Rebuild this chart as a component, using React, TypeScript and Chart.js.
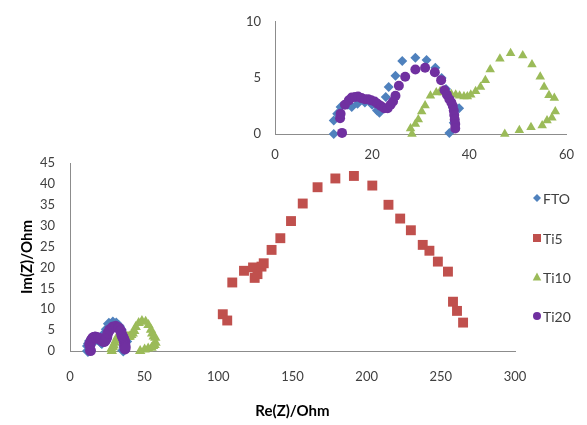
import React, { useEffect, useRef } from 'react';
import { Chart, registerables } from 'chart.js';

Chart.register(...registerables);

const SERIES_NAMES = ['FTO', 'Ti5', 'Ti10', 'Ti20'];
const COLORS = ['#4F81BD', '#C0504D', '#9BBB59', '#7030A0'];
const POINT_STYLES = ['rectRot', 'rect', 'triangle', 'circle'];

const FTO_X = [12.1, 12.1, 12.8, 13.5, 15.0, 15.8, 17.0, 18.5, 20.0, 21.0, 21.5, 22.8, 23.4, 24.8, 26.2, 28.9, 31.2, 33.0, 34.3, 35.2, 36.0, 36.6, 37.9, 36.8, 35.9];
const FTO_Y = [0.0, 1.2, 1.8, 2.4, 2.6, 2.4, 2.7, 2.8, 2.6, 2.1, 1.9, 3.3, 4.2, 5.2, 6.5, 6.8, 6.6, 5.9, 5.0, 4.0, 3.0, 2.6, 2.3, 1.0, 0.1];

const TI5_X = [103.0, 106.0, 109.4, 117.3, 123.4, 124.5, 126.4, 129.1, 130.6, 135.9, 141.8, 149.0, 156.9, 166.9, 178.9, 191.4, 203.8, 214.7, 222.6, 229.8, 237.8, 242.3, 248.0, 254.8, 258.2, 260.9, 265.0];
const TI5_Y = [8.8, 7.3, 16.4, 19.2, 20.0, 17.5, 18.4, 20.2, 21.0, 24.2, 27.0, 31.1, 35.3, 39.2, 41.3, 41.9, 39.6, 35.0, 31.7, 28.9, 25.4, 24.0, 21.4, 19.0, 11.8, 9.6, 6.8];

const TI10_X = [28.2, 27.9, 28.9, 29.5, 30.2, 30.9, 32.0, 33.2, 34.0, 34.6, 35.5, 36.3, 37.2, 38.0, 38.9, 39.6, 40.3, 41.3, 42.3, 43.3, 44.3, 46.3, 48.5, 51.0, 52.9, 54.6, 55.4, 56.4, 57.5, 57.7, 57.0, 56.0, 55.0, 52.7, 50.3, 47.3];
const TI10_Y = [0.0, 0.5, 0.9, 1.3, 2.0, 2.55, 3.4, 3.7, 3.8, 3.7, 3.6, 3.55, 3.5, 3.4, 3.35, 3.35, 3.5, 3.8, 4.2, 4.8, 5.75, 6.7, 7.2, 7.0, 6.2, 5.1, 4.2, 3.45, 3.2, 2.0, 1.45, 1.2, 0.75, 0.6, 0.33, 0.0];

const TI20_X = [13.8, 13.4, 13.5, 14.4, 15.2, 15.8, 16.5, 17.1, 17.8, 18.5, 19.2, 19.8, 20.5, 21.1, 21.8, 22.5, 23.2, 23.8, 24.3, 24.8, 25.5, 26.8, 28.9, 30.9, 32.9, 34.2, 34.9, 35.4, 35.9, 36.3, 36.6, 36.8, 36.9, 37.0, 37.1, 37.1];
const TI20_Y = [0.1, 1.4, 1.8, 2.6, 3.0, 3.25, 3.3, 3.35, 3.2, 3.1, 3.1, 3.0, 2.9, 2.7, 2.5, 2.3, 2.3, 2.6, 2.9, 3.4, 4.3, 5.1, 5.75, 5.9, 5.5, 4.8, 3.9, 3.5, 3.1, 2.8, 2.5, 2.1, 1.7, 1.3, 0.9, 0.5];

const MAIN_X_TICKS = [0, 50, 100, 150, 200, 250, 300];
const MAIN_Y_TICKS = [0, 5, 10, 15, 20, 25, 30, 35, 40, 45];
const INSET_X_TICKS = [0, 20, 40, 60];
const INSET_Y_TICKS = [0, 5, 10];

const X_TITLE = 'Re(Z)/Ohm';
const Y_TITLE = 'Im(Z)/Ohm';

const SERIES_X = [FTO_X, TI5_X, TI10_X, TI20_X];
const SERIES_Y = [FTO_Y, TI5_Y, TI10_Y, TI20_Y];

const FONT_FAMILY = 'Lato, "Open Sans", sans-serif';
const TEXT_COLOR = '#404040';
const AXIS_COLOR = '#8c8c8c';

function pts(xs: number[], ys: number[]) {
  return xs.map((x, i) => ({ x, y: ys[i] }));
}

function drawMarker(ctx: CanvasRenderingContext2D, style: string, x: number, y: number, r: number, color: string) {
  ctx.save();
  ctx.fillStyle = color;
  ctx.beginPath();
  if (style === 'rectRot') {
    ctx.moveTo(x, y - r);
    ctx.lineTo(x + r, y);
    ctx.lineTo(x, y + r);
    ctx.lineTo(x - r, y);
    ctx.closePath();
  } else if (style === 'rect') {
    ctx.rect(x - r, y - r, 2 * r, 2 * r);
  } else if (style === 'triangle') {
    ctx.moveTo(x, y - r);
    ctx.lineTo(x + r * 0.95, y + r * 0.75);
    ctx.lineTo(x - r * 0.95, y + r * 0.75);
    ctx.closePath();
  } else {
    ctx.arc(x, y, r, 0, Math.PI * 2);
  }
  ctx.fill();
  ctx.restore();
}

const legendPlugin = {
  id: 'customLegend',
  afterDraw(chart: any) {
    const ctx = chart.ctx as CanvasRenderingContext2D;
    const ys = [198, 238, 277, 316];
    const rs = [4, 4, 4.5, 4];
    ctx.save();
    ctx.font = `14px ${FONT_FAMILY}`;
    ctx.textBaseline = 'middle';
    SERIES_NAMES.forEach((name, i) => {
      drawMarker(ctx, POINT_STYLES[i], 537, ys[i], rs[i], COLORS[i]);
      ctx.fillStyle = TEXT_COLOR;
      ctx.fillText(name, 543, ys[i] + 1);
    });
    ctx.restore();
  },
};

const tickFont = { family: FONT_FAMILY, size: 13 };
const titleFont = { family: FONT_FAMILY, size: 15, weight: 'bold' as const };

export default function App() {
  const mainRef = useRef<HTMLCanvasElement>(null);
  const insetRef = useRef<HTMLCanvasElement>(null);

  useEffect(() => {
    const mainSizes = [6, 7, 6, 5.5];
    const mainChart = new Chart(mainRef.current!, {
      type: 'scatter',
      data: {
        datasets: SERIES_NAMES.map((name, i) => ({
          label: name,
          data: pts(SERIES_X[i], SERIES_Y[i]),
          pointStyle: POINT_STYLES[i] as any,
          pointRadius: mainSizes[i],
          backgroundColor: COLORS[i],
          borderColor: COLORS[i],
          borderWidth: 0,
          order: 4 - i,
          clip: false as any,
        })),
      },
      options: {
        animation: false,
        responsive: false,
        maintainAspectRatio: false,
        layout: { padding: { left: 0, top: 163, right: 72, bottom: 0 } },
        plugins: { legend: { display: false }, tooltip: { enabled: false } },
        scales: {
          x: {
            type: 'linear',
            min: 0,
            max: 300,
            afterBuildTicks: (s: any) => { s.ticks = MAIN_X_TICKS.map((v) => ({ value: v })); },
            ticks: { padding: 18, font: tickFont, color: TEXT_COLOR, autoSkip: false, maxRotation: 0 },
            grid: { display: false, drawTicks: false },
            border: { display: true, color: AXIS_COLOR, width: 1 },
            title: { display: true, text: X_TITLE, font: titleFont, color: '#000', padding: { top: 0, bottom: 5 } },
            afterFit: (s: any) => { s.height = 74; },
          },
          y: {
            type: 'linear',
            min: 0,
            max: 45,
            afterBuildTicks: (s: any) => { s.ticks = MAIN_Y_TICKS.map((v) => ({ value: v })); },
            ticks: { padding: 15, font: tickFont, color: TEXT_COLOR, autoSkip: false },
            grid: { display: false, drawTicks: false },
            border: { display: true, color: AXIS_COLOR, width: 1 },
            title: { display: true, text: Y_TITLE, font: titleFont, color: '#000', padding: { top: 18, bottom: 0 } },
            afterFit: (s: any) => { s.width = 70; },
          },
        },
      },
      plugins: [legendPlugin],
    });

    const insetIdx = [0, 2, 3];
    const insetSizes = [5, 5.5, 5];
    const insetChart = new Chart(insetRef.current!, {
      type: 'scatter',
      data: {
        datasets: insetIdx.map((i, k) => ({
          label: SERIES_NAMES[i],
          data: pts(SERIES_X[i], SERIES_Y[i]),
          pointStyle: POINT_STYLES[i] as any,
          pointRadius: insetSizes[k],
          backgroundColor: COLORS[i],
          borderColor: COLORS[i],
          borderWidth: 0,
          order: 4 - i,
          clip: false as any,
        })),
      },
      options: {
        animation: false,
        responsive: false,
        maintainAspectRatio: false,
        layout: { padding: { left: 0, top: 14, right: 14, bottom: 0 } },
        plugins: { legend: { display: false }, tooltip: { enabled: false } },
        scales: {
          x: {
            type: 'linear',
            min: 0,
            max: 60,
            afterBuildTicks: (s: any) => { s.ticks = INSET_X_TICKS.map((v) => ({ value: v })); },
            ticks: { padding: 13, font: tickFont, color: TEXT_COLOR, autoSkip: false, maxRotation: 0 },
            grid: { display: false, drawTicks: false },
            border: { display: true, color: AXIS_COLOR, width: 1 },
            afterFit: (s: any) => { s.height = 36; },
          },
          y: {
            type: 'linear',
            min: 0,
            max: 10,
            afterBuildTicks: (s: any) => { s.ticks = INSET_Y_TICKS.map((v) => ({ value: v })); },
            ticks: { padding: 14, font: tickFont, color: TEXT_COLOR, autoSkip: false },
            grid: { display: false, drawTicks: false },
            border: { display: true, color: AXIS_COLOR, width: 1 },
            afterFit: (s: any) => { s.width = 45; },
          },
        },
      },
    });

    return () => {
      mainChart.destroy();
      insetChart.destroy();
    };
  }, []);

  return (
    <div style={{ position: 'absolute', left: 0, top: 0, width: 587, height: 425, background: '#fff' }}>
      <canvas ref={mainRef} width={587} height={425} style={{ position: 'absolute', left: 0, top: 0, display: 'block' }} />
      <canvas ref={insetRef} width={357} height={170} style={{ position: 'absolute', left: 230, top: 0, display: 'block' }} />
    </div>
  );
}
